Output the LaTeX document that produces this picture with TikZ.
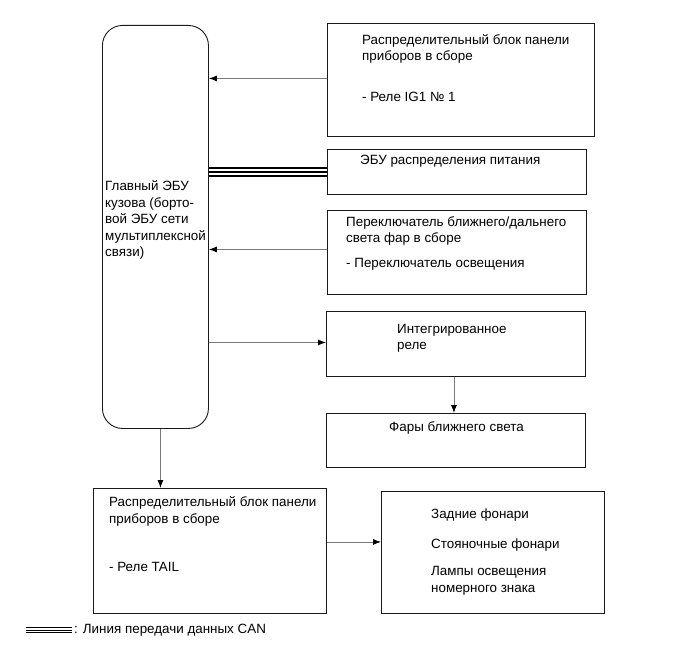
\documentclass[tikz,border=0pt]{standalone}
\usepackage{fontspec}
\setmainfont{Liberation Sans}
\usetikzlibrary{arrows.meta}
\definecolor{rand}{HTML}{1A1A1A}
\definecolor{verb}{HTML}{7A7A7A}
\tikzset{
  box/.style={draw=rand,line width=0.9pt,anchor=north west,inner sep=0pt},
  txt/.style={anchor=base west,inner sep=0pt,align=left,font=\fontsize{13.4}{16.5}\selectfont},
  conn/.style={-{Latex[length=8pt,width=6pt,black]},verb,line width=0.8pt},
  can/.style={black,line width=10pt,postaction={draw=white,line width=6.6pt,postaction={draw=black,line width=1.3pt}}},
  canleg/.style={black,line width=6.5pt,postaction={draw=white,line width=4pt,postaction={draw=black,line width=1pt}}},
}
\begin{document}
\begin{tikzpicture}[x=1pt,y=-1pt]
  \useasboundingbox[fill=white] (0,0) rectangle (691,660);
  % boxes
  \node[box,rounded corners=20pt,minimum width=106pt,minimum height=403pt] (ecu) at (102,25) {};
  \node[box,minimum width=267pt,minimum height=113pt] (ipb1) at (327,23) {};
  \node[box,minimum width=259pt,minimum height=45pt] (pcu) at (327,149) {};
  \node[box,minimum width=259pt,minimum height=84pt] (hsw) at (327,210) {};
  \node[box,minimum width=259pt,minimum height=65pt] (irel) at (326,311) {};
  \node[box,minimum width=259pt,minimum height=54pt] (lowb) at (326,413) {};
  \node[box,minimum width=233pt,minimum height=125pt] (ipb2) at (93,488) {};
  \node[box,minimum width=223pt,minimum height=122pt] (tail) at (381,491) {};
  % texts (base = last line)
  \node[txt] (ecut) at (105,257) {Главный ЭБУ\\кузова (борто-\\вой ЭБУ сети\\мультиплексной\\связи)};
  \node[txt] (ipb1a) at (362,61) {Распределительный блок панели\\приборов в сборе};
  \node[txt] (ipb1b) at (362,102) {- Реле IG1 № 1};
  \node[txt] (pcut) at (360,165) {ЭБУ распределения питания};
  \node[txt] (hswa) at (346,243) {Переключатель ближнего/дальнего\\света фар в сборе};
  \node[txt] (hswb) at (346,268) {- Переключатель освещения};
  \node[txt] (irelt) at (397,350) {Интегрированное\\реле};
  \node[txt] (lowbt) at (389,431) {Фары ближнего света};
  \node[txt] (ipb2a) at (109,523) {Распределительный блок панели\\приборов в сборе};
  \node[txt] (ipb2b) at (109,571) {- Реле TAIL};
  \node[txt] (taila) at (431,518) {Задние фонари};
  \node[txt] (tailb) at (431,548) {Стояночные фонари};
  \node[txt] (tailc) at (431,592) {Лампы освещения\\номерного знака};
  % connectors
  \draw[conn] ([yshift=1.5pt]ipb1.west) -- ([yshift=1.5pt]ipb1.west -| ecu.east);
  \draw[can] (ecu.east |- pcu.west) -- (pcu.west);
  \draw[conn] ([yshift=3pt]hsw.west) -- ([yshift=3pt]hsw.west -| ecu.east);
  \draw[conn] ([yshift=1.5pt]irel.west -| ecu.east) -- ([yshift=1.5pt]irel.west);
  \draw[conn] ([xshift=-2pt]irel.south) -- ([xshift=-2pt]irel.south |- lowb.north);
  \draw[conn] ([xshift=5pt]ecu.south) -- ([xshift=5pt]ecu.south |- ipb2.north);
  \draw[conn] ([yshift=9pt]ipb2.east) -- ([yshift=9pt]ipb2.east -| tail.west);
  % legend
  \coordinate (lg1) at (26,630);
  \coordinate (lg2) at (72,630);
  \draw[canleg] (lg1) -- (lg2);
  \node[anchor=west,inner sep=0pt,font=\fontsize{13.4}{16.5}\selectfont] (legt) at ([xshift=2pt]lg2) {: Линия передачи данных CAN};
\end{tikzpicture}
\end{document}
